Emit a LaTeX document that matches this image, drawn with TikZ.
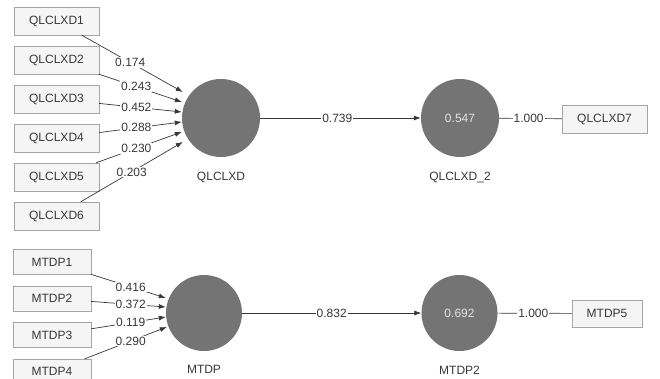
\documentclass[tikz,border=0pt]{standalone}
\usepackage{fontspec}
\setmainfont{Liberation Sans}
\usetikzlibrary{arrows.meta}
\definecolor{latentgray}{RGB}{116,116,116}
\definecolor{boxgray}{RGB}{245,245,245}
\definecolor{edgegray}{RGB}{165,165,165}
\definecolor{inkgray}{RGB}{55,55,55}
\definecolor{r2gray}{RGB}{228,228,228}

\begin{document}
\begin{tikzpicture}[
                    x=1pt, y=-1pt,
                    node distance=39pt,
                    indicator/.style={rectangle, draw=edgegray, fill=boxgray, text=inkgray, minimum width=85pt, minimum height=28pt, inner sep=2pt, font=\fontsize{12}{14}\selectfont},
                    latent/.style={circle, fill=latentgray, text=r2gray, minimum size=78pt, inner sep=0pt, font=\fontsize{12}{14}\selectfont},
                    latentname/.style={text=inkgray, yshift=-11pt, font=\fontsize{12}{14}\selectfont},
                    coef/.style={fill=white, text=inkgray, inner sep=1pt, font=\fontsize{12}{14}\selectfont},
                    arrow/.style={-{Latex[length=7pt, width=5pt]}, line width=0.7pt, draw=inkgray},
                    link/.style={line width=0.7pt, draw=inkgray}
                ]
                    \useasboundingbox (0,0) rectangle (660,378);

                    \node[latent, label={[latentname]below:QLCLXD}] (qlclxd) at (221,118) {};
                    \node[latent, label={[latentname]below:QLCLXD\_2}] (qlclxd2) at (460,118) {0.547};
                    \node[indicator] (q7) at (604.5,119) {QLCLXD7};

                    \node[indicator] (q1) at (56.5,21) {QLCLXD1};
                    \node[indicator, below of=q1] (q2) {QLCLXD2};
                    \node[indicator, below of=q2] (q3) {QLCLXD3};
                    \node[indicator, below of=q3] (q4) {QLCLXD4};
                    \node[indicator, below of=q4] (q5) {QLCLXD5};
                    \node[indicator, below of=q5] (q6) {QLCLXD6};

                    \draw[arrow] (q1) -- node[coef, pos=0.48] {0.174} ([yshift=26pt, xshift=1pt]qlclxd.west);
                    \draw[arrow] (q2) -- node[coef, pos=0.45] {0.243} ([yshift=16pt]qlclxd.west);
                    \draw[arrow] (q3) -- node[coef, pos=0.45] {0.452} ([yshift=6pt]qlclxd.west);
                    \draw[arrow] (q4) -- node[coef, pos=0.45] {0.288} ([yshift=-4pt]qlclxd.west);
                    \draw[arrow] (q5) -- node[coef, pos=0.47] {0.230} ([yshift=-14pt]qlclxd.west);
                    \draw[arrow] (q6) -- node[coef, pos=0.5] {0.203} ([yshift=-24pt, xshift=1pt]qlclxd.west);

                    \draw[arrow] (qlclxd) -- node[coef, pos=0.48] {0.739} (qlclxd2);
                    \draw[link] (qlclxd2) -- node[coef, pos=0.47] {1.000} (q7);

                    \node[latent, minimum size=76pt, label={[latentname]below:MTDP}] (mtdp) at (204,313) {};
                    \node[latent, minimum size=76pt, label={[latentname]below:MTDP2}] (mtdp2) at (459.5,313) {0.692};
                    \node[indicator, minimum width=70pt, minimum height=27pt] (m5) at (607,313.5) {MTDP5};

                    \node[indicator, minimum width=78pt, minimum height=25pt] (m1) at (52,262) {MTDP1};
                    \node[indicator, minimum width=78pt, minimum height=25pt, node distance=36.5pt, below of=m1] (m2) {MTDP2};
                    \node[indicator, minimum width=78pt, minimum height=25pt, node distance=36.5pt, below of=m2] (m3) {MTDP3};
                    \node[indicator, minimum width=78pt, minimum height=25pt, node distance=36.5pt, below of=m3] (m4) {MTDP4};

                    \draw[arrow] (m1) -- node[coef, pos=0.53] {0.416} ([yshift=15pt]mtdp.west);
                    \draw[arrow] (m2) -- node[coef, pos=0.53] {0.372} ([yshift=6pt]mtdp.west);
                    \draw[arrow] (m3) -- node[coef, pos=0.53] {0.119} ([yshift=-4pt]mtdp.west);
                    \draw[arrow] (m4) -- node[coef, pos=0.56] {0.290} ([yshift=-14pt, xshift=1pt]mtdp.west);

                    \draw[arrow] (mtdp) -- node[coef, pos=0.5] {0.832} (mtdp2);
                    \draw[link] (mtdp2) -- node[coef, pos=0.48] {1.000} (m5);

                \end{tikzpicture}
\end{document}
